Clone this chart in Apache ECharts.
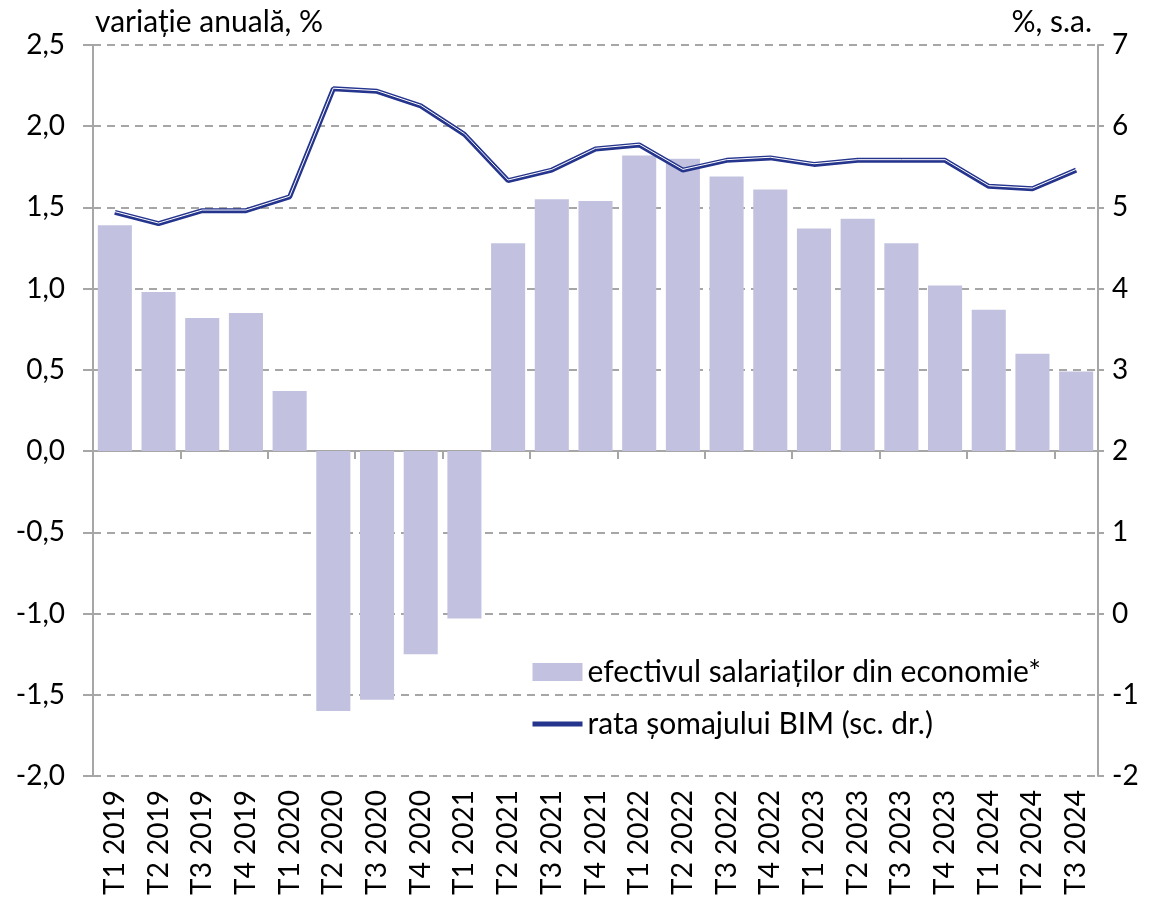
<!DOCTYPE html>
<html>
<head>
<meta charset="utf-8">
<script src="https://cdn.jsdelivr.net/npm/echarts@6/dist/echarts.min.js"></script>
<style>
  html, body { margin: 0; padding: 0; background: #fff; }
  #chart { width: 1154px; height: 904px; }
</style>
</head>
<body>
<div id="chart"></div>
<script>
// trimestre
const categories = [
  'T1 2019', 'T2 2019', 'T3 2019', 'T4 2019',
  'T1 2020', 'T2 2020', 'T3 2020', 'T4 2020',
  'T1 2021', 'T2 2021', 'T3 2021', 'T4 2021',
  'T1 2022', 'T2 2022', 'T3 2022', 'T4 2022',
  'T1 2023', 'T2 2023', 'T3 2023', 'T4 2023',
  'T1 2024', 'T2 2024', 'T3 2024'
]

// efectivul salariatilor, variatie anuala %
const salariati = [
  1.39, 0.98, 0.82, 0.85,
  0.37, -1.60, -1.53, -1.25,
  -1.03, 1.28, 1.55, 1.54,
  1.82, 1.80, 1.69, 1.61,
  1.37, 1.43, 1.28, 1.02,
  0.87, 0.60, 0.49
]

// rata somajului BIM, % s.a. (scala dreapta)
const somaj = [
  4.94, 4.80, 4.96, 4.96,
  5.13, 6.46, 6.43, 6.25,
  5.90, 5.33, 5.46, 5.72,
  5.77, 5.46, 5.58, 5.61,
  5.53, 5.58, 5.58, 5.58,
  5.26, 5.23, 5.46
]

const FONT = 'Lato'
const GRAY = '#a6a6a6'
const NAVY = '#25348c'
const BAR = '#c2c2e0'
const TICK_FS = 28
const TEXT_FS = 30

// decalaj mic (in unitati ale scalei drepte) pentru dunga alba din linia dubla
const SHIFT = 0.008

const chart = echarts.init(document.getElementById('chart'))

const option = {
  animation: false,
  textStyle: { fontFamily: FONT, color: '#000' },
  grid: { left: 93, right: 56, top: 45, bottom: 128 },
  legend: {
    orient: 'vertical',
    left: 530,
    top: 656,
    padding: 0,
    itemGap: 20,
    itemWidth: 50,
    itemHeight: 18,
    textStyle: { fontFamily: FONT, fontSize: TEXT_FS, color: '#000', lineHeight: 32 },
    data: [
      { name: 'efectivul salariaților din economie*', icon: 'rect' },
      {
        name: 'rata șomajului BIM (sc. dr.)',
        itemStyle: { opacity: 0 },
        lineStyle: { color: NAVY, width: 5 }
      }
    ]
  },
  xAxis: [
    {
      type: 'category',
      data: categories,
      position: 'bottom',
      axisLine: { show: false, onZero: false },
      axisTick: { show: false },
      axisLabel: {
        rotate: 90,
        fontSize: TICK_FS,
        fontFamily: FONT,
        color: '#000',
        margin: 14,
        interval: 0
      }
    },
    {
      type: 'category',
      data: categories,
      position: 'bottom',
      axisLine: { show: true, onZero: true, lineStyle: { color: GRAY, width: 2 } },
      axisTick: { show: true, length: 8, lineStyle: { color: GRAY, width: 2 } },
      axisLabel: { show: false }
    }
  ],
  yAxis: [
    {
      type: 'value',
      min: -2,
      max: 2.5,
      interval: 0.5,
      name: 'variație anuală, %',
      nameLocation: 'end',
      nameGap: 8,
      nameTextStyle: { fontFamily: FONT, fontSize: TEXT_FS, color: '#000', align: 'left', padding: [0, 0, 0, 2] },
      axisLine: { show: true, lineStyle: { color: GRAY, width: 2 } },
      axisTick: { show: true, length: 10, lineStyle: { color: GRAY, width: 2 } },
      axisLabel: {
        fontSize: TICK_FS,
        fontFamily: FONT,
        color: '#000',
        margin: 28,
        formatter: v => v.toFixed(1).replace('.', ',')
      },
      splitLine: { show: true, lineStyle: { color: GRAY, width: 2, type: [8, 6] } }
    },
    {
      type: 'value',
      min: -2,
      max: 7,
      interval: 1,
      name: '%, s.a.',
      nameLocation: 'end',
      nameGap: 8,
      nameTextStyle: { fontFamily: FONT, fontSize: TEXT_FS, color: '#000', align: 'right', padding: [0, 6, 0, 0] },
      axisLine: { show: true, lineStyle: { color: GRAY, width: 2 } },
      axisTick: { show: true, length: 6, lineStyle: { color: GRAY, width: 2 } },
      axisLabel: { fontSize: TICK_FS, fontFamily: FONT, color: '#000', margin: 14 },
      splitLine: { show: false }
    },
    {
      // axa ascunsa, identica cu cea din dreapta dar decalata putin in sus
      type: 'value',
      min: -2 - SHIFT,
      max: 7 - SHIFT,
      show: false,
      splitLine: { show: false }
    }
  ],
  series: [
    {
      name: 'efectivul salariaților din economie*',
      type: 'bar',
      xAxisIndex: 0,
      yAxisIndex: 0,
      data: salariati,
      barCategoryGap: '22%',
      itemStyle: { color: BAR }
    },
    {
      name: 'rata șomajului BIM (sc. dr.)',
      type: 'line',
      xAxisIndex: 0,
      yAxisIndex: 1,
      data: somaj,
      symbol: 'none',
      lineStyle: { color: NAVY, width: 5 },
      itemStyle: { color: NAVY }
    },
    {
      // dunga alba din interior (efect de linie dubla)
      name: 'somaj-interior',
      type: 'line',
      xAxisIndex: 0,
      yAxisIndex: 2,
      data: somaj,
      symbol: 'none',
      silent: true,
      lineStyle: { color: '#ffffff', width: 1 }
    }
  ]
}

chart.setOption(option)
</script>
</body>
</html>
